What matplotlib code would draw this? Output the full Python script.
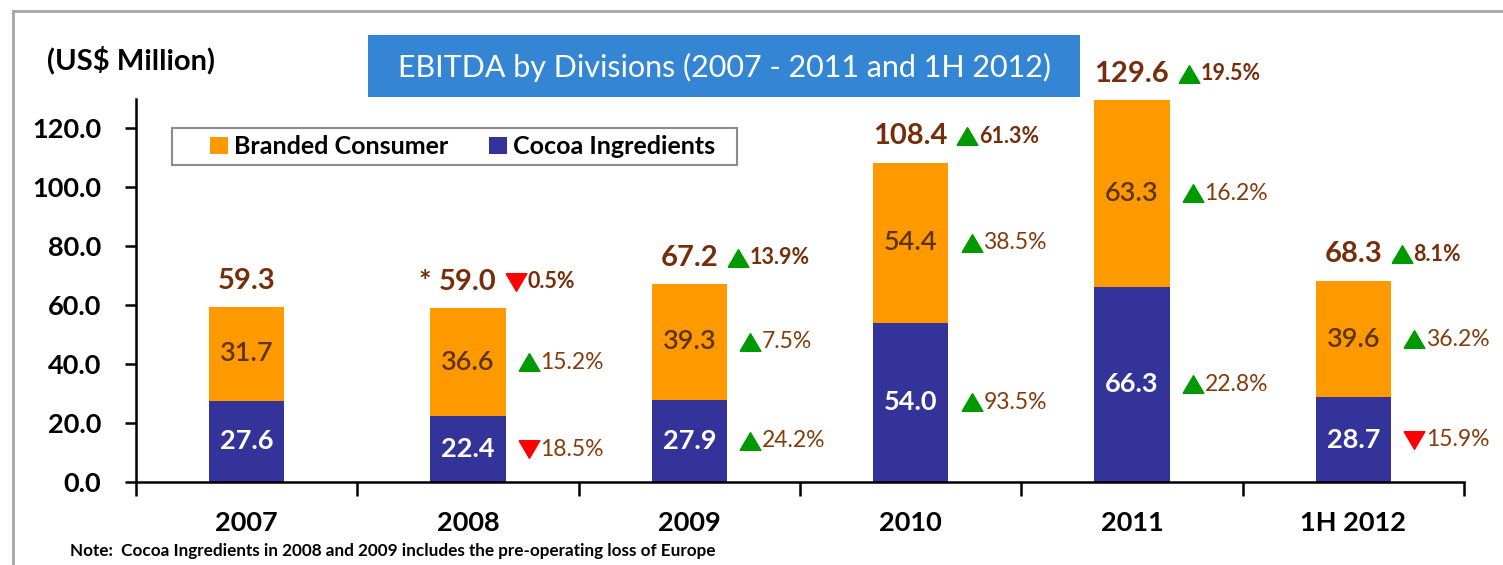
import matplotlib
matplotlib.use('Agg')
import matplotlib.pyplot as plt
from matplotlib.patches import Patch, Rectangle
from matplotlib.lines import Line2D
import numpy as np

# ---------------- data ----------------
categories = ['2007', '2008', '2009', '2010', '2011', '1H 2012']
cocoa = [27.6, 22.4, 27.9, 54.0, 66.3, 28.7]
branded = [31.7, 36.6, 39.3, 54.4, 63.3, 39.6]
totals = [59.3, 59.0, 67.2, 108.4, 129.6, 68.3]
total_prefix = ['', '*', '', '', '', '']
total_chg = [None, -0.5, 13.9, 61.3, 19.5, 8.1]
branded_chg = [None, 15.2, 7.5, 38.5, 16.2, 36.2]
cocoa_chg = [None, -18.5, 24.2, 93.5, 22.8, -15.9]
series_names = ['Branded Consumer', 'Cocoa Ingredients']
yticks = [0, 20, 40, 60, 80, 100, 120]
title = 'EBITDA by Divisions (2007 - 2011 and 1H 2012)'
unit_label = '(US$ Million)'
note = 'Note:  Cocoa Ingredients in 2008 and 2009 includes the pre-operating loss of Europe'

# ---------------- style ----------------
plt.rcParams['font.family'] = ['Lato', 'DejaVu Sans']
ORANGE = '#FF9900'
BLUE = '#333399'
BROWN = '#843C0C'
TOTALBROWN = '#762D0A'
DARKBROWN = '#5E3306'
GREEN = '#009900'
RED = '#FF0000'
TITLE_BG = '#3585D5'
BAR_W = 0.34

W, H = 1503, 565
fig = plt.figure(figsize=(W / 100, H / 100), dpi=100)
fig.patch.set_facecolor('white')

# outer frame
fig.add_artist(Line2D([13 / W, 13 / W], [0, 1 - 11 / H], color='#A6A6A6', lw=2, transform=fig.transFigure))
fig.add_artist(Line2D([13 / W, 1], [1 - 11 / H, 1 - 11 / H], color='#A6A6A6', lw=2, transform=fig.transFigure))

ax = fig.add_axes([136 / W, 83 / H, 1328 / W, 383 / H])
x = np.arange(len(categories))
ax.bar(x, cocoa, BAR_W, color=BLUE, zorder=2)
ax.bar(x, branded, BAR_W, bottom=cocoa, color=ORANGE, zorder=2)

ax.set_xlim(-0.5, len(categories) - 0.5)
ax.set_ylim(0, 130)
ax.set_yticks(yticks)
ax.set_yticklabels([f'{v:.1f}' for v in yticks], fontsize=19.5, fontweight='bold')
ax.set_xticks(x)
ax.set_xticklabels(categories, fontsize=19.5, fontweight='bold')
ax.set_xticks(np.arange(len(categories) + 1) - 0.5, minor=True)
ax.tick_params(axis='x', which='major', length=0, pad=21)
ax.tick_params(axis='x', which='minor', length=10, width=1.8, direction='out')
ax.tick_params(axis='y', length=8, width=1.8, direction='out', pad=17)
for s in ['top', 'right']:
    ax.spines[s].set_visible(False)
for s in ['left', 'bottom']:
    ax.spines[s].set_linewidth(1.8)
    ax.spines[s].set_color('black')

up_marker = [(-1, -0.85), (1, -0.85), (0, 0.85), (-1, -0.85)]
down_marker = [(-1, 0.85), (1, 0.85), (0, -0.85), (-1, 0.85)]
MS = 15


def tri(xd, yd, val):
    ax.plot([xd], [yd], marker=up_marker if val >= 0 else down_marker, ms=MS,
            color=GREEN if val >= 0 else RED, ls='none', clip_on=False, zorder=5)


# segment labels
for i in range(len(categories)):
    ax.text(x[i], cocoa[i] / 2, f'{cocoa[i]:.1f}', ha='center', va='center',
            color='white', fontsize=19.5, fontweight='bold', zorder=4)
    ax.text(x[i], cocoa[i] + branded[i] / 2, f'{branded[i]:.1f}', ha='center', va='center',
            color=DARKBROWN, fontsize=19.5, fontweight='semibold', zorder=4)
    for seg_val, seg_y in ((branded_chg[i], cocoa[i] + branded[i] / 2), (cocoa_chg[i], cocoa[i] / 2)):
        if seg_val is None:
            continue
        tri(x[i] + BAR_W / 2 + 0.106, seg_y, seg_val)
        ax.text(x[i] + BAR_W / 2 + 0.158, seg_y, f'{abs(seg_val):.1f}%', ha='left', va='center',
                color=BROWN, fontsize=16.5)

# totals
total_texts = []
for i in range(len(categories)):
    t = ax.text(x[i], totals[i] + 9, f'{totals[i]:.1f}', ha='center', va='center',
                color=TOTALBROWN, fontsize=21, fontweight='bold', clip_on=False)
    total_texts.append(t)
    if total_prefix[i]:
        ax.annotate(total_prefix[i], xy=(0, 0.5), xycoords=t, xytext=(-6, 0),
                    textcoords='offset points', ha='right', va='center',
                    color=TOTALBROWN, fontsize=21, fontweight='bold')

fig.canvas.draw()
renderer = fig.canvas.get_renderer()
inv = ax.transData.inverted()
for i, t in enumerate(total_texts):
    if total_chg[i] is None:
        continue
    bb = t.get_window_extent(renderer)
    yd = totals[i] + 9
    _, ydisp = ax.transData.transform((0, yd))
    xm, _ = inv.transform((bb.x1 + 9 + 10.5, ydisp))
    tri(xm, yd, total_chg[i])
    xt, _ = inv.transform((bb.x1 + 9 + 22, ydisp))
    ax.text(xt, yd, f'{abs(total_chg[i]):.1f}%', ha='left', va='center',
            color=TOTALBROWN, fontsize=15.5, fontweight='bold', clip_on=False)

# legend (frame drawn separately)
fig.add_artist(Rectangle((172 / W, 1 - 165 / H), 565 / W, 37 / H, transform=fig.transFigure,
                         facecolor='white', edgecolor='#8C8C8C', lw=1.5, zorder=3))
handles = [Patch(facecolor=ORANGE), Patch(facecolor=BLUE)]
leg = fig.legend(handles, series_names, ncol=2, loc='center left',
                 bbox_to_anchor=(210 / W, 1 - 146.5 / H), bbox_transform=fig.transFigure,
                 frameon=False, prop={'size': 18, 'weight': 'bold'},
                 handlelength=0.7, handleheight=0.7,
                 handletextpad=0.25, columnspacing=1.65, borderpad=0, borderaxespad=0)
leg.set_zorder(4)

# title box
fig.add_artist(Rectangle((368 / W, 1 - 97 / H), 712 / W, 62 / H, transform=fig.transFigure,
                         facecolor=TITLE_BG, edgecolor='none'))
fig.text(724 / W, 1 - 67 / H, title, ha='center', va='center', color='white', fontsize=22)
fig.text(47 / W, 1 - 60 / H, unit_label, ha='left', va='center', color='black',
         fontsize=21, fontweight='bold')
fig.text(70 / W, 1 - 551 / H, note, ha='left', va='center', color='black',
         fontsize=12.3, fontweight='bold')

fig.savefig('out.png', dpi=100)
